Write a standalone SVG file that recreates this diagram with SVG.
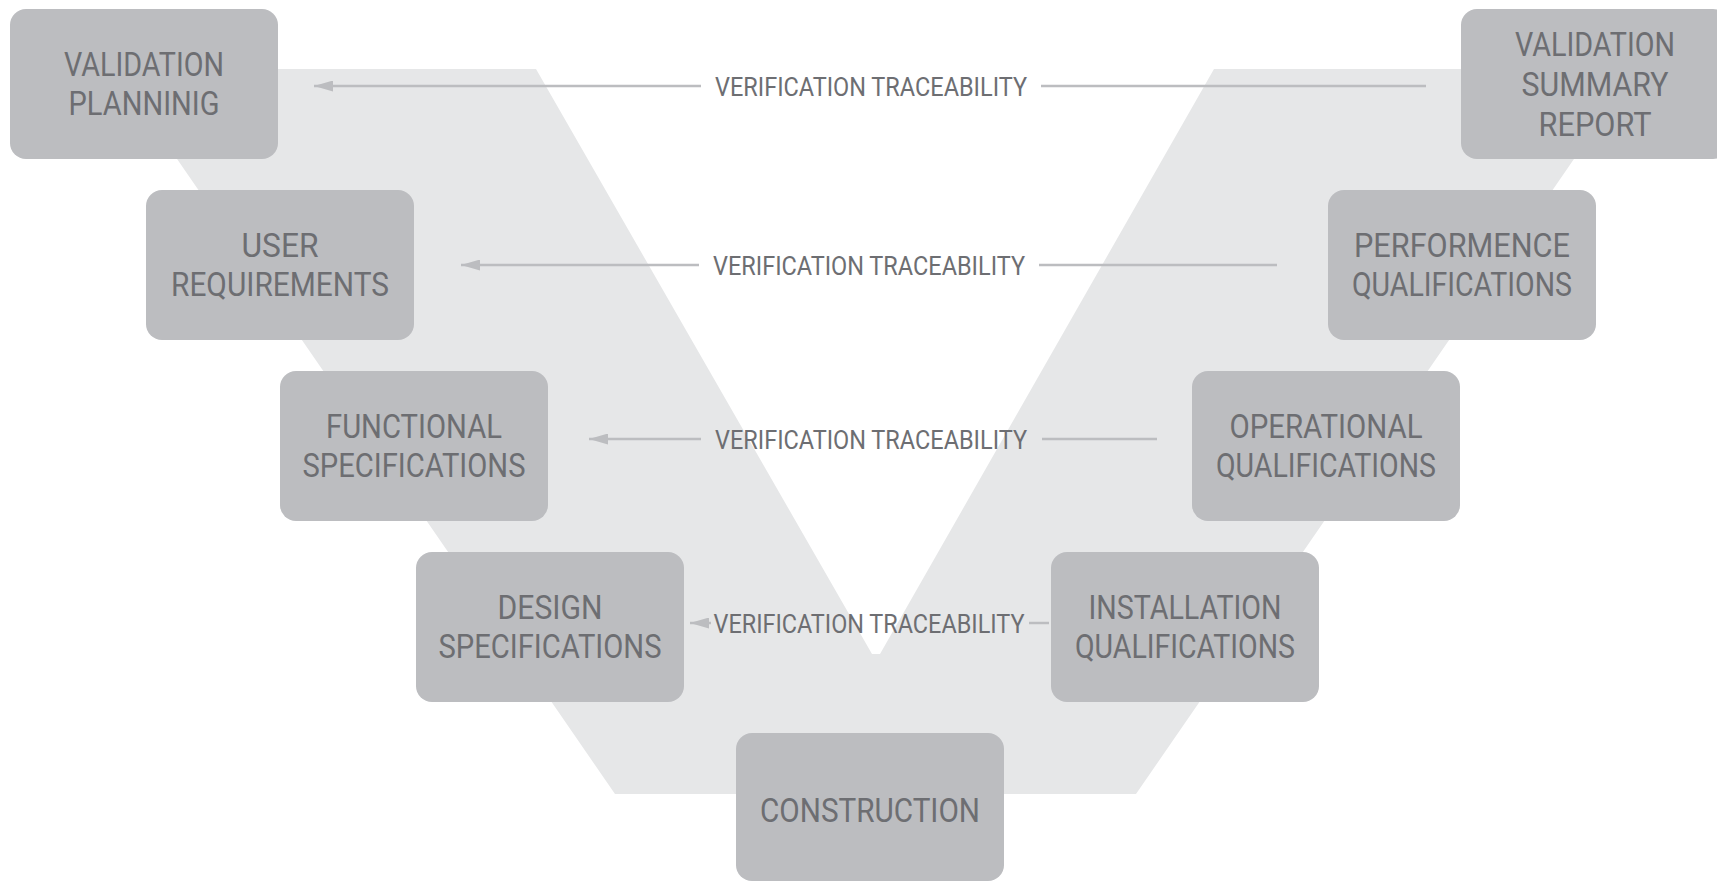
<svg xmlns="http://www.w3.org/2000/svg" width="1717" height="881" viewBox="0 0 1717 881">
<style>
.box{fill:#bcbdc0;}
.lbl{font-family:Roboto,"Liberation Sans",sans-serif;font-size:34px;fill:#6d6e72;text-anchor:middle;}
.vt{font-family:Roboto,"Liberation Sans",sans-serif;font-size:26px;fill:#6d6e72;text-anchor:middle;}
.ln{stroke:#bcbdc0;stroke-width:2.5;fill:none;}
</style>
<defs>
<marker id="ah" markerUnits="userSpaceOnUse" markerWidth="19" markerHeight="11" viewBox="0 0 19 11" refX="19" refY="5.5" orient="auto">
<path d="M0,0 L19,5.5 L0,11 z" fill="#bcbdc0"/>
</marker>
</defs>
<rect width="1717" height="881" fill="#ffffff"/>
<polygon id="v-band" points="115,69 536,69 872,654 880,654 1214,69 1636,69 1136,794 615,794" fill="#e6e7e8"/>
<g id="connectors">
<line class="ln" x1="701" y1="86" x2="314" y2="86" marker-end="url(#ah)"/>
<line class="ln" x1="1041" y1="86" x2="1426" y2="86"/>
<text class="vt" x="871" y="95.5" textLength="312" lengthAdjust="spacingAndGlyphs">VERIFICATION TRACEABILITY</text>
<line class="ln" x1="699" y1="265" x2="461" y2="265" marker-end="url(#ah)"/>
<line class="ln" x1="1039" y1="265" x2="1277" y2="265"/>
<text class="vt" x="869" y="274.5" textLength="312" lengthAdjust="spacingAndGlyphs">VERIFICATION TRACEABILITY</text>
<line class="ln" x1="701" y1="439" x2="589" y2="439" marker-end="url(#ah)"/>
<line class="ln" x1="1042" y1="439" x2="1157" y2="439"/>
<text class="vt" x="871" y="448.5" textLength="312" lengthAdjust="spacingAndGlyphs">VERIFICATION TRACEABILITY</text>
<line class="ln" x1="711" y1="623" x2="690" y2="623" marker-end="url(#ah)"/>
<line class="ln" x1="1029" y1="623" x2="1049" y2="623"/>
<text class="vt" x="869" y="632.5" textLength="311" lengthAdjust="spacingAndGlyphs">VERIFICATION TRACEABILITY</text>
</g>
<g id="validation-planning">
<rect class="box" x="10" y="9" width="268" height="150" rx="16"/>
<text class="lbl" x="144" y="75.5" textLength="160" lengthAdjust="spacingAndGlyphs">VALIDATION</text>
<text class="lbl" x="144" y="115" textLength="151" lengthAdjust="spacingAndGlyphs">PLANNINIG</text>
</g>
<g id="user-requirements">
<rect class="box" x="146" y="190" width="268" height="150" rx="16"/>
<text class="lbl" x="280" y="256.5" textLength="77" lengthAdjust="spacingAndGlyphs">USER</text>
<text class="lbl" x="280" y="296" textLength="218" lengthAdjust="spacingAndGlyphs">REQUIREMENTS</text>
</g>
<g id="functional-specifications">
<rect class="box" x="280" y="371" width="268" height="150" rx="16"/>
<text class="lbl" x="414" y="437.5" textLength="176" lengthAdjust="spacingAndGlyphs">FUNCTIONAL</text>
<text class="lbl" x="414" y="477" textLength="223" lengthAdjust="spacingAndGlyphs">SPECIFICATIONS</text>
</g>
<g id="design-specifications">
<rect class="box" x="416" y="552" width="268" height="150" rx="16"/>
<text class="lbl" x="550" y="618.5" textLength="105" lengthAdjust="spacingAndGlyphs">DESIGN</text>
<text class="lbl" x="550" y="658" textLength="223" lengthAdjust="spacingAndGlyphs">SPECIFICATIONS</text>
</g>
<g id="construction">
<rect class="box" x="736" y="733" width="268" height="148" rx="16"/>
<text class="lbl" x="870" y="822" textLength="220" lengthAdjust="spacingAndGlyphs">CONSTRUCTION</text>
</g>
<g id="installation-qualifications">
<rect class="box" x="1051" y="552" width="268" height="150" rx="16"/>
<text class="lbl" x="1185" y="618.5" textLength="193" lengthAdjust="spacingAndGlyphs">INSTALLATION</text>
<text class="lbl" x="1185" y="658" textLength="220" lengthAdjust="spacingAndGlyphs">QUALIFICATIONS</text>
</g>
<g id="operational-qualifications">
<rect class="box" x="1192" y="371" width="268" height="150" rx="16"/>
<text class="lbl" x="1326" y="437.5" textLength="193" lengthAdjust="spacingAndGlyphs">OPERATIONAL</text>
<text class="lbl" x="1326" y="477" textLength="220" lengthAdjust="spacingAndGlyphs">QUALIFICATIONS</text>
</g>
<g id="performence-qualifications">
<rect class="box" x="1328" y="190" width="268" height="150" rx="16"/>
<text class="lbl" x="1462" y="256.5" textLength="216" lengthAdjust="spacingAndGlyphs">PERFORMENCE</text>
<text class="lbl" x="1462" y="296" textLength="220" lengthAdjust="spacingAndGlyphs">QUALIFICATIONS</text>
</g>
<g id="validation-summary-report">
<rect class="box" x="1461" y="9" width="268" height="150" rx="16"/>
<text class="lbl" x="1595" y="56" textLength="160" lengthAdjust="spacingAndGlyphs">VALIDATION</text>
<text class="lbl" x="1595" y="96" textLength="147" lengthAdjust="spacingAndGlyphs">SUMMARY</text>
<text class="lbl" x="1595" y="136" textLength="113" lengthAdjust="spacingAndGlyphs">REPORT</text>
</g>
</svg>
